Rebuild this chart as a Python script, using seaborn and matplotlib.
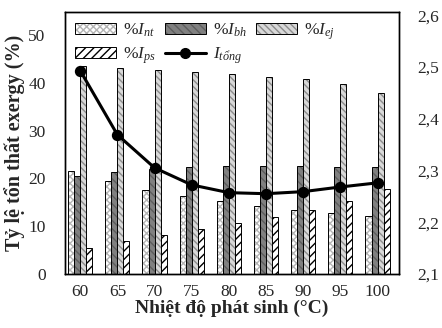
import matplotlib
matplotlib.use("Agg")
import matplotlib.pyplot as plt
import matplotlib.colors as mcolors
import seaborn as sns
import pandas as pd
import numpy as np
from matplotlib.patches import Patch
from matplotlib.lines import Line2D

temps = ["60", "65", "70", "75", "80", "85", "90", "95", "100"]
I_nt = [21.6, 19.4, 17.6, 16.4, 15.3, 14.3, 13.4, 12.8, 12.2]
I_bh = [20.4, 21.4, 22.0, 22.3, 22.5, 22.5, 22.5, 22.3, 22.3]
I_ej = [43.5, 43.0, 42.6, 42.2, 41.8, 41.3, 40.7, 39.8, 37.9]
I_ps = [5.5, 6.8, 8.2, 9.3, 10.6, 12.0, 13.4, 15.3, 17.8]
I_tong = [2.493, 2.369, 2.305, 2.272, 2.257, 2.255, 2.259, 2.268, 2.276]

series_names = ["nt", "bh", "ej", "ps"]
series_vals = [I_nt, I_bh, I_ej, I_ps]
labels = ["%$I_{nt}$", "%$I_{bh}$", "%$I_{ej}$", "%$I_{ps}$"]
tong_label = "$I_{tổng}$"

faces = ["#ffffff", "#808080", "#d8d8d8", "#ffffff"]
hatch_cols = ["#b4b4b4", "#5e5e5e", "#8c8c8c", "#000000"]
hatches = ["xxxxx", "\\\\\\\\", "\\\\\\\\\\", "////"]

df = pd.DataFrame({
    "temp": np.repeat([temps], 4, axis=0).ravel(),
    "series": np.repeat(series_names, len(temps)),
    "value": np.concatenate(series_vals),
})

sns.set_style("white")
plt.rcParams["font.family"] = ["Liberation Serif", "DejaVu Serif"]
plt.rcParams["mathtext.fontset"] = "custom"
plt.rcParams["mathtext.it"] = "Liberation Serif:italic"
plt.rcParams["mathtext.rm"] = "Liberation Serif"
plt.rcParams["hatch.linewidth"] = 1.0


def style_patch(p, fc, h, hc):
    p.set_facecolor(fc)
    p.set_edgecolor("black")
    p.set_hatch(h)
    p._hatch_color = mcolors.to_rgba(hc)


fig = plt.figure(figsize=(4.42, 3.28), dpi=100)
ax = fig.add_axes([0.147, 0.165, 0.756, 0.798])

sns.barplot(data=df, x="temp", y="value", hue="series", order=temps,
            hue_order=series_names, palette=faces, width=0.65,
            edgecolor="black", linewidth=0.7, ax=ax, legend=False,
            saturation=1)

for cont, fc, h, hc in zip(ax.containers, faces, hatches, hatch_cols):
    for p in cont:
        style_patch(p, fc, h, hc)

ax2 = ax.twinx()
sns.pointplot(x=temps, y=I_tong, ax=ax2, color="black", markers="o",
              linestyles="-", markersize=6.5, linewidth=2.2)

ax.set_ylim(0, 54.8)
ax.set_yticks([0, 10, 20, 30, 40, 50])
ax2.set_ylim(2.1, 2.606)
r_ticks = [2.1, 2.2, 2.3, 2.4, 2.5, 2.6]
ax2.set_yticks(r_ticks)
ax2.set_yticklabels([f"{t:.1f}".replace(".", ",") for t in r_ticks])
ax.set_xlim(-0.41, 8.58)

for a in (ax, ax2):
    a.tick_params(length=0, labelsize=12.5, pad=7)
    for s in a.spines.values():
        s.set_color("black")
        s.set_linewidth(1.0)
ax.tick_params(axis="y", pad=14)
ax2.tick_params(axis="y", pad=13)

ax.set_xlabel("Nhiệt độ phát sinh (°C)", fontsize=14, fontweight="bold", labelpad=0)
ax.set_ylabel("Tỷ lệ tổn thất exergy (%)", fontsize=14.5, fontweight="bold", labelpad=2)
ax2.set_ylabel("")

handles = []
for fc, h, hc in zip(faces, hatches, hatch_cols):
    hp = Patch(linewidth=0.7)
    style_patch(hp, fc, h, hc)
    handles.append(hp)
line_h = Line2D([], [], color="black", marker="o", markersize=7, linewidth=2.2)
order_h = [handles[0], handles[3], handles[1], line_h, handles[2]]
order_l = [labels[0], labels[3], labels[1], tong_label, labels[2]]
leg = ax2.legend(order_h, order_l, ncol=3, loc="upper left", frameon=False,
                 fontsize=12.5, handlelength=2.4, handleheight=0.6,
                 columnspacing=0.5, handletextpad=0.4, labelspacing=0.35,
                 borderaxespad=0.15, bbox_to_anchor=(0.0, 1.0))
for lh, src in zip(leg.legend_handles, order_h):
    if isinstance(src, Patch):
        lh._hatch_color = src._hatch_color

fig.savefig("out.png", dpi=100)
